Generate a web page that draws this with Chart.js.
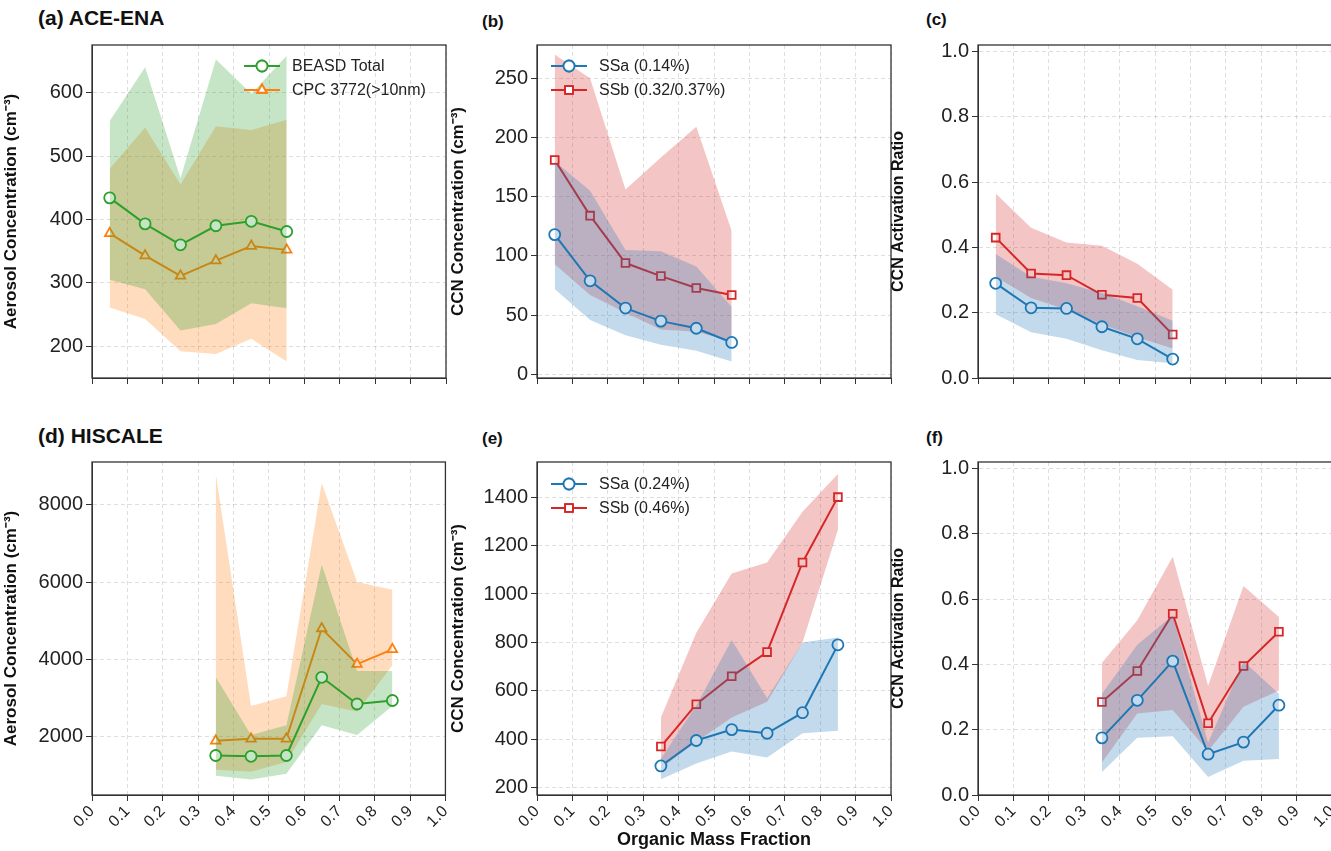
<!DOCTYPE html>
<html>
<head>
<meta charset="utf-8">
<script src="https://cdn.jsdelivr.net/npm/chart.js@4.4.0/dist/chart.umd.min.js"></script>
<style>
  body { margin: 0; width: 1331px; height: 851px; overflow: hidden; background: #fff; font-family: "Liberation Sans", Arial, sans-serif; }
  canvas { position: absolute; }
  .lbl { position: absolute; font-weight: bold; color: #111; }
</style>
</head>
<body>
<div class="lbl" style="left:38px;top:6px;font-size:21px">(a) ACE-ENA</div>
<div class="lbl" style="left:482px;top:12px;font-size:17px">(b)</div>
<div class="lbl" style="left:926px;top:10px;font-size:17px">(c)</div>
<div class="lbl" style="left:38px;top:424px;font-size:21px">(d) HISCALE</div>
<div class="lbl" style="left:482px;top:429px;font-size:17px">(e)</div>
<div class="lbl" style="left:926px;top:428px;font-size:17px">(f)</div>

<canvas id="a"></canvas><canvas id="b"></canvas><canvas id="c"></canvas>
<canvas id="d"></canvas><canvas id="e"></canvas><canvas id="f"></canvas>

<script>
// organic mass fraction bins
const xEna = [0.05, 0.15, 0.25, 0.35, 0.45, 0.55];
const xHis = [0.35, 0.45, 0.55, 0.65, 0.75, 0.85];

// (a) ACE-ENA aerosol
const aBeasd = [434, 393, 360, 390, 397, 381];
const aBeasdHi = [555, 640, 465, 652, 598, 658];
const aBeasdLo = [305, 290, 225, 235, 268, 260];
const aCpc = [378, 343, 311, 335, 358, 352];
const aCpcHi = [480, 545, 455, 547, 541, 557];
const aCpcLo = [261, 243, 192, 188, 212, 176];

// (b) ACE-ENA CCN
const bSSa = [118, 79, 56, 45, 39, 27];
const bSSaHi = [180, 155, 105, 104, 91, 57];
const bSSaLo = [72, 46, 33, 25, 20, 11];
const bSSb = [181, 134, 94, 83, 73, 67];
const bSSbHi = [270, 250, 156, 183, 209, 121];
const bSSbLo = [93, 67, 52, 38, 36, 28];

// (c) ACE-ENA activation ratio
const cSSa = [0.29, 0.215, 0.213, 0.157, 0.12, 0.058];
const cSSaHi = [0.38, 0.31, 0.29, 0.26, 0.22, 0.175];
const cSSaLo = [0.195, 0.14, 0.12, 0.085, 0.055, 0.045];
const cSSb = [0.43, 0.32, 0.315, 0.255, 0.245, 0.133];
const cSSbHi = [0.565, 0.46, 0.415, 0.405, 0.35, 0.27];
const cSSbLo = [0.31, 0.245, 0.21, 0.165, 0.125, 0.09];

// (d) HISCALE aerosol
const dBeasd = [1520, 1500, 1520, 3540, 2850, 2940];
const dBeasdHi = [3550, 2050, 2300, 6450, 3700, 3700];
const dBeasdLo = [1000, 900, 1050, 2300, 2050, 2800];
const dCpc = [1900, 1950, 1950, 4800, 3880, 4260];
const dCpcHi = [8800, 2800, 3050, 8550, 6000, 5800];
const dCpcLo = [1150, 1100, 1350, 2850, 2650, 3850];

// (e) HISCALE CCN
const eSSa = [290, 395, 440, 425, 510, 790];
const eSSaHi = [320, 540, 810, 570, 800, 820];
const eSSaLo = [235, 300, 350, 325, 425, 435];
const eSSb = [370, 545, 660, 760, 1130, 1400];
const eSSbHi = [490, 840, 1085, 1130, 1340, 1495];
const eSSbLo = [280, 390, 490, 555, 800, 1265];

// (f) HISCALE activation ratio
const fSSa = [0.175, 0.29, 0.41, 0.125, 0.162, 0.275];
const fSSaHi = [0.31, 0.46, 0.55, 0.16, 0.41, 0.31];
const fSSaLo = [0.07, 0.175, 0.18, 0.055, 0.105, 0.11];
const fSSb = [0.285, 0.38, 0.555, 0.22, 0.395, 0.50];
const fSSbHi = [0.405, 0.535, 0.73, 0.335, 0.64, 0.545];
const fSSbLo = [0.1, 0.25, 0.26, 0.135, 0.27, 0.32];

const xTicks = [0, 0.1, 0.2, 0.3, 0.4, 0.5, 0.6, 0.7, 0.8, 0.9, 1.0];

const GREEN = '#2ca02c', ORANGE = '#ff7f0e', BLUE = '#1f77b4', RED = '#d62728';
const FONT = '"Liberation Sans", Arial, sans-serif';
const rgba = (hex, a) => {
  const n = parseInt(hex.slice(1), 16);
  return `rgba(${n >> 16},${(n >> 8) & 255},${n & 255},${a})`;
};
const pts = (xs, ys) => xs.map((x, i) => ({x: x, y: ys[i]}));

function series(xs, mid, hi, lo, color, shape, label) {
  return [
    {data: pts(xs, hi), borderWidth: 0, pointRadius: 0, fill: '+1', backgroundColor: rgba(color, 0.27), tension: 0},
    {data: pts(xs, lo), borderWidth: 0, pointRadius: 0, fill: false},
    {label: label, data: pts(xs, mid), borderColor: color, borderWidth: 2, pointStyle: shape,
     pointRadius: 5.5, pointBorderWidth: 1.8, pointBackgroundColor: '#fff', pointBorderColor: color, fill: false}
  ];
}

// frame around plot area + legend inside
const frame = {
  id: 'frame',
  afterDraw(chart, args, opts) {
    const {ctx, chartArea: a} = chart;
    ctx.save();
    ctx.strokeStyle = '#333'; ctx.lineWidth = 1.3;
    ctx.strokeRect(a.left, a.top, a.right - a.left, a.bottom - a.top);
    if (opts.items) {
      let y = a.top + opts.dy;
      ctx.font = '16px ' + FONT;
      ctx.textBaseline = 'middle';
      opts.items.forEach(it => {
        const x = a.left + opts.dx;
        ctx.strokeStyle = it.color; ctx.lineWidth = 2;
        ctx.beginPath(); ctx.moveTo(x, y); ctx.lineTo(x + 36, y); ctx.stroke();
        ctx.fillStyle = '#fff'; ctx.lineWidth = 1.8;
        Chart.helpers.drawPoint(ctx, {pointStyle: it.shape, radius: 5.5, borderWidth: 1.8}, x + 18, y);
        ctx.fill(); ctx.stroke();
        ctx.fillStyle = '#222';
        ctx.fillText(it.label, x + 48, y + 1);
        y += 24;
      });
    }
    ctx.restore();
  }
};

function make(id, pos, datasets, y, opt) {
  const cv = document.getElementById(id);
  cv.style.left = pos.left + 'px'; cv.style.top = pos.top + 'px';
  cv.width = pos.w; cv.height = pos.h;
  new Chart(cv, {
    type: 'line',
    data: {datasets: datasets},
    options: {
      responsive: false, animation: false,
      layout: {padding: {top: 8, right: pos.w - pos.yw - 354, left: 0, bottom: 0}},
      plugins: {legend: {display: false}, tooltip: {enabled: false}, frame: {items: opt.legend, dx: opt.ldx, dy: opt.ldy}},
      scales: {
        x: {
          type: 'linear', min: 0, max: 1,
          afterBuildTicks: ax => { ax.ticks = xTicks.map(v => ({value: v})); },
          afterFit: ax => { ax.height = pos.h - 8 - 340; },
          grid: {color: 'rgba(0,0,0,0.13)', tickColor: '#333', tickLength: 6},
          border: {color: '#333', dash: [4, 3]},
          ticks: {display: opt.xlab, minRotation: 45, maxRotation: 45, color: '#222', padding: 1,
                  font: {size: 16, family: FONT}, callback: v => v.toFixed(1)},
          title: {display: !!opt.xtitle, text: opt.xtitle, color: '#111', padding: {top: 0, bottom: 0},
                  font: {size: 18, weight: 'bold', family: FONT}}
        },
        y: {
          min: y.min, max: y.max,
          afterBuildTicks: ax => { ax.ticks = y.ticks.map(v => ({value: v})); },
          afterFit: ax => { ax.width = pos.yw; },
          grid: {color: 'rgba(0,0,0,0.13)', tickColor: '#333', tickLength: 6},
          border: {color: '#333', dash: [4, 3]},
          ticks: {color: '#222', padding: 3, font: {size: 20, family: FONT}, callback: y.fmt},
          title: {display: true, text: y.title, color: '#111', padding: 1,
                  font: {size: y.tsize || 17, weight: 'bold', family: FONT}}
        }
      }
    },
    plugins: [frame]
  });
}

const aeroTitle = 'Aerosol Concentration (cm\u207B\u00B3)';
const ccnTitle = 'CCN Concentration (cm\u207B\u00B3)';
const actTitle = 'CCN Activation Ratio';
const int = v => String(v);
const one = v => v.toFixed(1);
const legAer = [{label: 'BEASD Total', color: GREEN, shape: 'circle'}, {label: 'CPC 3772(>10nm)', color: ORANGE, shape: 'triangle'}];

make('a', {left: 0, top: 30, w: 460, h: 400, yw: 92},
  [...series(xEna, aBeasd, aBeasdHi, aBeasdLo, GREEN, 'circle', 'BEASD Total'),
   ...series(xEna, aCpc, aCpcHi, aCpcLo, ORANGE, 'triangle', 'CPC 3772(>10nm)')],
  {min: 150, max: 675, ticks: [200, 300, 400, 500, 600], fmt: int, title: aeroTitle},
  {xlab: false, legend: legAer, ldx: 152, ldy: 21});

make('b', {left: 447, top: 30, w: 460, h: 397, yw: 90},
  [...series(xEna, bSSa, bSSaHi, bSSaLo, BLUE, 'circle', 'SSa'),
   ...series(xEna, bSSb, bSSbHi, bSSbLo, RED, 'rect', 'SSb')],
  {min: -3, max: 278, ticks: [0, 50, 100, 150, 200, 250], fmt: int, title: ccnTitle},
  {xlab: false, legend: [{label: 'SSa (0.14%)', color: BLUE, shape: 'circle'}, {label: 'SSb (0.32/0.37%)', color: RED, shape: 'rect'}], ldx: 14, ldy: 21});

make('c', {left: 888, top: 30, w: 460, h: 397, yw: 90},
  [...series(xEna, cSSa, cSSaHi, cSSaLo, BLUE, 'circle', 'SSa'),
   ...series(xEna, cSSb, cSSbHi, cSSbLo, RED, 'rect', 'SSb')],
  {min: 0, max: 1.02, ticks: [0, 0.2, 0.4, 0.6, 0.8, 1.0], fmt: one, title: actTitle, tsize: 16},
  {xlab: false});

make('d', {left: 0, top: 447, w: 460, h: 404, yw: 92},
  [...series(xHis, dBeasd, dBeasdHi, dBeasdLo, GREEN, 'circle', 'BEASD Total'),
   ...series(xHis, dCpc, dCpcHi, dCpcLo, ORANGE, 'triangle', 'CPC 3772(>10nm)')],
  {min: 500, max: 9100, ticks: [2000, 4000, 6000, 8000], fmt: int, title: aeroTitle},
  {xlab: true});

make('e', {left: 447, top: 447, w: 460, h: 404, yw: 90},
  [...series(xHis, eSSa, eSSaHi, eSSaLo, BLUE, 'circle', 'SSa'),
   ...series(xHis, eSSb, eSSbHi, eSSbLo, RED, 'rect', 'SSb')],
  {min: 170, max: 1545, ticks: [200, 400, 600, 800, 1000, 1200, 1400], fmt: int, title: ccnTitle},
  {xlab: true, xtitle: 'Organic Mass Fraction', legend: [{label: 'SSa (0.24%)', color: BLUE, shape: 'circle'}, {label: 'SSb (0.46%)', color: RED, shape: 'rect'}], ldx: 14, ldy: 22});

make('f', {left: 888, top: 447, w: 460, h: 404, yw: 90},
  [...series(xHis, fSSa, fSSaHi, fSSaLo, BLUE, 'circle', 'SSa'),
   ...series(xHis, fSSb, fSSbHi, fSSbLo, RED, 'rect', 'SSb')],
  {min: 0, max: 1.02, ticks: [0, 0.2, 0.4, 0.6, 0.8, 1.0], fmt: one, title: actTitle, tsize: 16},
  {xlab: true});
</script>
</body>
</html>
